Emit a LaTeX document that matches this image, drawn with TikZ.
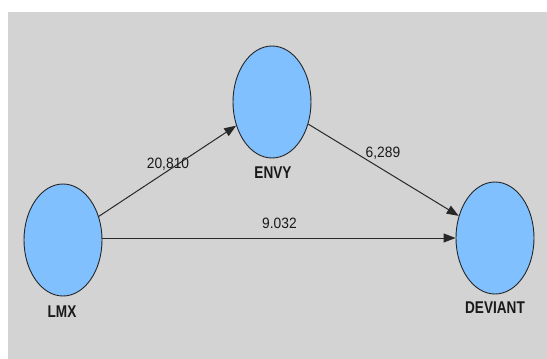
\documentclass[tikz,border=0pt]{standalone}
\usepackage{fontspec}
\setmainfont{Liberation Sans}
\newfontfamily\nodefont[FakeStretch=0.8]{Liberation Sans}
\newfontfamily\edgefont[FakeStretch=0.92]{Liberation Sans}
\usetikzlibrary{shapes.geometric,arrows.meta}
\definecolor{bggray}{RGB}{211,211,211}
\definecolor{latentblue}{RGB}{128,192,255}
\definecolor{edgedark}{RGB}{40,40,40}
\tikzset{
  latent/.style={ellipse, draw=black!85, line width=0.9pt, fill=latentblue,
    minimum width=78pt, minimum height=112pt, inner sep=0pt},
  latentlabel/.style={font=\nodefont\bfseries\fontsize{17}{17}\selectfont, text=black!90, inner sep=0pt},
  pathlabel/.style={font=\edgefont\fontsize{15}{15}\selectfont, text=black!90, inner sep=0pt},
  pathline/.style={draw=edgedark, line width=1pt, -{Triangle[length=12pt,width=9pt]}}
}
\begin{document}
\begin{tikzpicture}[x=1pt,y=-1pt]
  \useasboundingbox (0,0) rectangle (547,359);
  \fill[white] (0,0) rectangle (547,359);
  \fill[bggray] (8,12) rectangle (547,359);

  \node[latent] (lmx) at (63,240) {};
  \node[latent] (envy) at (272,102) {};
  \node[latent] (dev) at (495,238) {};

  \node[latentlabel] (lmxl) at (62,312) {LMX};
  \node[latentlabel] (envyl) at (273,173) {ENVY};
  \node[latentlabel] (devl) at (495,308) {DEVIANT};

  \draw[pathline] (lmx) -- (envy);
  \draw[pathline] (envy) -- (dev);
  \draw[pathline] (lmx.east |- 0,238) coordinate (hs) -- (dev.west |- 0,238);

  \node[pathlabel] (l1) at (168,164) {20,810};
  \node[pathlabel] (l2) at (383,153) {6,289};
  \node[pathlabel] (l3) at (279.5,223) {9.032};
\end{tikzpicture}
\end{document}
